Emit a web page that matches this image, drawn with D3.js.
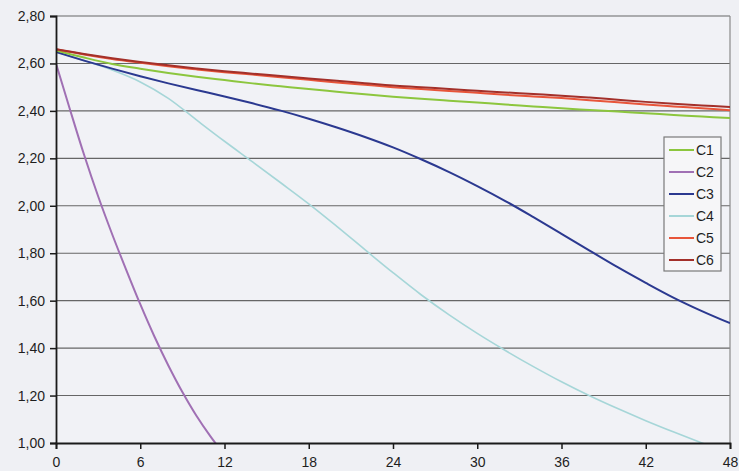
<!DOCTYPE html>
<html>
<head>
<meta charset="utf-8">
<script src="https://cdn.jsdelivr.net/npm/d3@7"></script>
<style>
  html, body { margin: 0; padding: 0; background: #eff0f4; }
  svg { display: block; }
  text { font-family: Arial, "Liberation Sans", sans-serif; fill: #1e1e1e; }
</style>
</head>
<body>
<svg id="chart" width="739" height="471"></svg>
<script>
// ---- data ----
const hours = [0,2,4,6,8,10,12,14,16,18,20,22,24,26,28,30,32,34,36,38,40,42,44,46,48];
const c1 = [2.655,2.625,2.598,2.578,2.560,2.544,2.530,2.516,2.504,2.492,2.481,2.470,2.460,2.451,2.443,2.435,2.427,2.419,2.411,2.404,2.397,2.390,2.383,2.376,2.370];
const c2Hours = [0,1,2,3,4,5,6,7,8,9,10,11,12];
const c2 = [2.60,2.405,2.215,2.04,1.88,1.73,1.585,1.45,1.327,1.215,1.115,1.028,0.95];
const c3 = [2.648,2.612,2.578,2.546,2.516,2.488,2.461,2.432,2.401,2.367,2.330,2.290,2.246,2.196,2.142,2.083,2.020,1.952,1.882,1.811,1.741,1.675,1.612,1.556,1.505];
const c4 = [2.650,2.612,2.572,2.522,2.453,2.362,2.272,2.185,2.097,2.008,1.913,1.815,1.718,1.625,1.540,1.462,1.390,1.322,1.258,1.199,1.145,1.094,1.046,1.000,0.956];
const c5 = [2.660,2.638,2.619,2.603,2.588,2.575,2.563,2.553,2.542,2.531,2.520,2.510,2.500,2.492,2.484,2.476,2.468,2.461,2.454,2.445,2.436,2.427,2.419,2.411,2.403];
const c6 = [2.660,2.640,2.622,2.606,2.592,2.579,2.567,2.557,2.547,2.537,2.527,2.517,2.507,2.500,2.492,2.485,2.478,2.471,2.464,2.456,2.447,2.438,2.430,2.423,2.416];
const xTicks = [0,6,12,18,24,30,36,42,48];
const yTicks = [1.0,1.2,1.4,1.6,1.8,2.0,2.2,2.4,2.6,2.8];
const seriesNames = ["C1","C2","C3","C4","C5","C6"];
const seriesColors = ["#8cc63e","#a070b4","#2b3990","#a6d6d8","#e8553a","#a3302a"];

const series = [
  {name: "C1", xs: hours, ys: c1},
  {name: "C2", xs: c2Hours, ys: c2},
  {name: "C3", xs: hours, ys: c3},
  {name: "C4", xs: hours, ys: c4},
  {name: "C5", xs: hours, ys: c5},
  {name: "C6", xs: hours, ys: c6}
];

(function () {
// ---- layout ----
const pL = 56, pR = 730, pT = 16, pB = 443;
const svg = d3.select("#chart");
const x = d3.scaleLinear().domain([0, 48]).range([pL, pR]);
const y = d3.scaleLinear().domain([1.0, 2.8]).range([pB, pT]);
const color = d3.scaleOrdinal().domain(seriesNames).range(seriesColors);
const fmt = d => d3.format(".2f")(d).replace(".", ",");

// plot background
svg.append("rect").attr("x", pL).attr("y", pT)
  .attr("width", pR - pL).attr("height", pB - pT)
  .attr("fill", "#f1f2f6");

// gridlines
svg.append("g").selectAll("line").data(yTicks.filter(d => d > 1.0)).join("line")
  .attr("x1", pL).attr("x2", pR)
  .attr("y1", d => y(d)).attr("y2", d => y(d))
  .attr("stroke", "#666").attr("stroke-width", 1.1);

// right border
svg.append("line").attr("x1", pR).attr("x2", pR).attr("y1", pT).attr("y2", pB)
  .attr("stroke", "#8a8a8a").attr("stroke-width", 1.2);

// clip
svg.append("clipPath").attr("id", "clip").append("rect")
  .attr("x", pL).attr("y", pT).attr("width", pR - pL).attr("height", pB - pT);

// lines
const line = d3.line().x(d => x(d[0])).y(d => y(d[1])).curve(d3.curveCatmullRom.alpha(0.5));
const drawOrder = ["C4","C2","C3","C1","C5","C6"];
svg.append("g").attr("clip-path", "url(#clip)")
  .selectAll("path").data(drawOrder.map(n => series.find(s => s.name === n))).join("path")
  .attr("d", s => line(s.xs.map((t, i) => [t, s.ys[i]])))
  .attr("fill", "none")
  .attr("stroke", s => color(s.name))
  .attr("stroke-width", s => s.name === "C4" ? 1.6 : 2);

// axes
const yAxis = d3.axisLeft(y).tickValues(yTicks).tickFormat(fmt).tickSize(6).tickPadding(5);
const gy = svg.append("g").attr("transform", `translate(${pL},0)`).call(yAxis);
gy.select(".domain").attr("stroke", "#1a1a1a").attr("stroke-width", 1.8);
gy.selectAll(".tick line").attr("stroke", "#1a1a1a").attr("stroke-width", 1.5);
gy.selectAll("text").style("font-size", "14px").attr("fill", "#1e1e1e")
  .style("font-family", "Arial, 'Liberation Sans', sans-serif");

const xAxis = d3.axisBottom(x).tickValues(xTicks).tickFormat(d3.format("d")).tickSize(6).tickPadding(8);
const gx = svg.append("g").attr("transform", `translate(0,${pB})`).call(xAxis);
gx.select(".domain").attr("stroke", "#1a1a1a").attr("stroke-width", 1.8);
gx.selectAll(".tick line").attr("stroke", "#1a1a1a").attr("stroke-width", 1.5);
gx.selectAll("text").style("font-size", "14px").attr("fill", "#1e1e1e")
  .style("font-family", "Arial, 'Liberation Sans', sans-serif");

// legend
const lg = svg.append("g");
lg.append("rect").attr("x", 664).attr("y", 137).attr("width", 57).attr("height", 134)
  .attr("fill", "#f6f6f8").attr("stroke", "#7a7a7a").attr("stroke-width", 1.2);
const items = lg.selectAll("g.item").data(seriesNames).join("g")
  .attr("class", "item")
  .attr("transform", (d, i) => `translate(0,${150 + i * 22})`);
items.append("line").attr("x1", 669).attr("x2", 694).attr("y1", 0).attr("y2", 0)
  .attr("stroke", d => color(d)).attr("stroke-width", 2);
items.append("text").attr("x", 696).attr("y", 5).text(d => d)
  .style("font-size", "14px");
})();
</script>
</body>
</html>
